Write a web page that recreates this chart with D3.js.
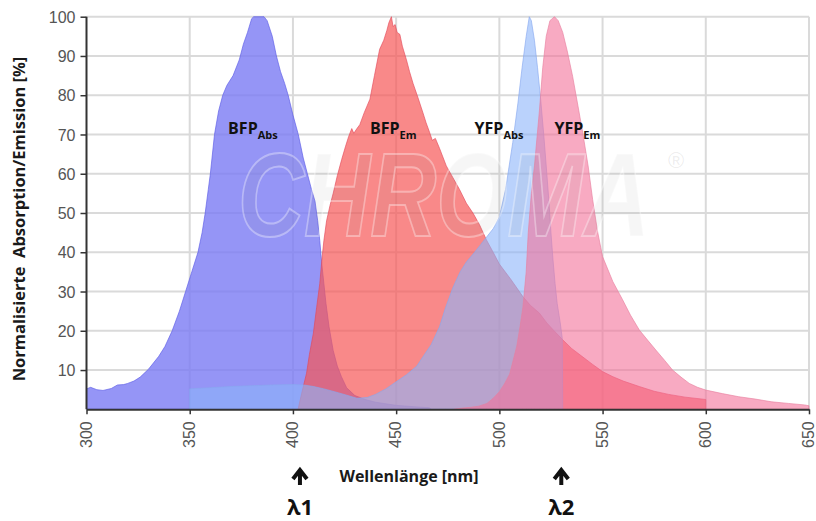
<!DOCTYPE html>
<html><head><meta charset="utf-8">
<script src="https://cdn.jsdelivr.net/npm/d3@7"></script>
<style>body{margin:0;background:#fff}svg{display:block}</style>
</head><body>
<svg id="c" width="816" height="521"></svg>
<script>
// ---- data (wavelength nm, normalized %) ----
const bfpAbs = [[300,0],[300,5.2],[302,5.6],[305,5.0],[308,4.8],[312,5.3],[315,6.2],[318,6.3],[320,6.6],[323,7.2],[326,8.2],[330,10.2],[335,13.5],[338,16],[341.5,20],[345,25],[348,30],[351,35],[354,40],[356,45],[357.5,50],[359,56],[360,60],[362,70],[364,76],[366,80],[368,82.5],[371,85],[374,89],[376,93],[378,96],[380,99.5],[381,100],[386,100],[387.5,99],[390,95],[392,90],[394,86],[396,83],[397.7,80],[400,75],[402.6,70],[405,64],[407,60],[409,56],[410.7,53],[412,48],[413,43],[414,37],[415,32],[416,27],[417.5,21],[419.5,15],[421.5,11],[423.5,8.3],[426,5.5],[430,3.5],[435,2.5],[440,1.8],[450,1.0],[460,0.6],[466,0.4],[467,0]];
const yfpAbs = [[350,0],[350,5.2],[360,5.5],[370,5.8],[380,6.0],[390,6.2],[400,6.3],[405,6.2],[410,5.8],[415,5.2],[420,4.5],[426,3.6],[431,2.8],[436,3.0],[440,3.8],[445,5.2],[450,7.0],[455,8.8],[460,11],[463,13.4],[467,16.5],[471,21],[474,26],[477.5,31],[481,35],[484,37.5],[488,40],[491,42],[494,44],[497,46],[500,49],[503,56],[506.5,68],[509,78],[511,87],[513,95],[514.5,100],[515.5,99],[517,94],[518.5,87],[520,79],[521.5,70],[523,60],[524,53],[525,45],[526,38],[527,32],[528,27],[529.5,22],[530.5,18],[530.7,0]];
const bfpEm = [[402.5,0],[404.2,4],[406.6,9.2],[408,14],[409.9,19.4],[411.5,26],[413,32],[414,38],[415,43],[416.3,48],[418,52],[419.5,55],[421.5,59.5],[423.6,63.6],[425.5,67],[427,69.5],[428.5,71.5],[429.5,70.3],[431,71.5],[432.4,72.5],[434.5,75.5],[437.3,79],[439.5,85],[442,91.7],[444,94],[445.5,96.5],[446.5,98.5],[447.7,100],[448.5,97.5],[449.5,98],[450.5,96],[451.8,95.5],[453,92.5],[455,89],[456.5,86],[458.2,83],[460.5,79.5],[463,75.5],[464.5,73],[466.3,70.4],[467.5,68.5],[469,69],[471,66.5],[474.3,62],[477.5,59],[480.7,56],[484,52.5],[487.2,50],[490.4,47],[493.7,43.2],[497,40],[500,37],[505.7,33],[511.4,28.7],[515,26.5],[519.4,24.5],[523,22],[526.5,20],[530.7,17.7],[535,15.5],[540,13.5],[545,11.5],[550,9.6],[555,8.3],[560,7.2],[567.8,5.8],[575,4.6],[582,3.8],[590,3.1],[600,2.5],[600,0]];
const yfpEm = [[478,0],[482,0.3],[486,0.5],[490,0.8],[494,1.5],[497,2.8],[500,4.5],[502.5,6.5],[505,9],[508.4,16],[510,21],[511.4,26],[513,35],[514,45],[515.5,55],[517,62],[519.4,76],[521,87],[522.7,95],[524.5,99],[526.7,100],[528.5,99],[530.7,96],[533,91],[535.5,84.8],[538,77.5],[540.4,70.4],[543,62],[545.2,53.4],[547.5,45.5],[550,38.9],[555,32.5],[559.7,27.9],[563.5,24],[567.8,20.2],[572,17.5],[575.8,15.1],[580,12.5],[583.9,10],[588,8.2],[592,6.6],[596,5.6],[600,4.9],[608,4.0],[616,3.2],[624,2.6],[632,1.9],[640,1.5],[648,1.1],[650,0.9],[650,0]];
const xTicks = [300,350,400,450,500,550,600,650];
const yTicks = [10,20,30,40,50,60,70,80,90,100];
const seriesLabels = [
  {main:"BFP", sub:"Abs", nm:368.6, v:70},
  {main:"BFP", sub:"Em",  nm:437.3, v:70},
  {main:"YFP", sub:"Abs", nm:488,   v:70},
  {main:"YFP", sub:"Em",  nm:526.7, v:70}
];
const markers = [{nm:403.4, label:"λ1"},{nm:530,label:"λ2"}];

// ---- layout ----
const svg = d3.select("#c");
const x = d3.scaleLinear().domain([300,650]).range([86.5,809]);
const y = d3.scaleLinear().domain([0,100]).range([409.3,16.7]);

// grid
const grid = svg.append("g");
grid.selectAll("line.h").data(yTicks).join("line")
  .attr("x1",x(300)).attr("x2",x(650)).attr("y1",d=>y(d)).attr("y2",d=>y(d))
  .attr("stroke","#dadada").attr("stroke-width",2);
grid.selectAll("line.v").data(xTicks.slice(1)).join("line")
  .attr("y1",y(0)).attr("y2",y(100)).attr("x1",d=>x(d)).attr("x2",d=>x(d))
  .attr("stroke","#dadada").attr("stroke-width",2);

// areas
const area = d3.area().x(d=>x(d[0])).y0(y(0)).y1(d=>y(d[1]));
const layers = [
  {data:bfpAbs, fill:"#7a7af4", op:0.8,  stroke:"#5a5ae6"},
  {data:bfpEm,  fill:"#f75757", op:0.7,  stroke:"#e2485a"},
  {data:yfpAbs, fill:"#8cb4fa", op:0.6,  stroke:"#88a8f0"},
  {data:yfpEm,  fill:"#f37199", op:0.6,  stroke:"#e7809f"}
];
layers.forEach(l=>{
  svg.append("path").datum(l.data).attr("d",area)
    .attr("fill",l.fill).attr("fill-opacity",l.op)
    .attr("stroke",l.stroke).attr("stroke-width",0.8).attr("stroke-opacity",0.8);
});

// watermark
svg.append("text").attr("x",238).attr("y",236)
  .attr("font-family","Liberation Sans, Arial, sans-serif").attr("font-weight","bold").attr("font-style","italic")
  .attr("font-size",118).attr("textLength",412).attr("lengthAdjust","spacingAndGlyphs")
  .attr("fill","#808080").attr("fill-opacity",0.07)
  .attr("stroke","#ffffff").attr("stroke-opacity",0.35).attr("stroke-width",2).text("CHROMA");
svg.append("text").attr("x",668).attr("y",168)
  .attr("font-family","Liberation Sans, Arial, sans-serif").attr("font-size",22)
  .attr("fill","#808080").attr("fill-opacity",0.15).text("®");

// axes
const yAxis = svg.append("g").attr("transform",`translate(${x(300)},0)`)
  .call(d3.axisLeft(y).tickValues(yTicks).tickSize(6).tickSizeOuter(0));
const xAxis = svg.append("g").attr("transform",`translate(0,${y(0)})`)
  .call(d3.axisBottom(x).tickValues(xTicks).tickSize(5).tickSizeOuter(0));
[yAxis,xAxis].forEach(a=>{
  a.select(".domain").attr("stroke","#333").attr("stroke-width",2);
  a.selectAll(".tick line").attr("stroke","#333").attr("stroke-width",1.5);
  a.selectAll("text").attr("font-family","Liberation Sans, Arial, sans-serif")
    .attr("font-size",16).attr("fill","#555");
});
yAxis.select(".domain").attr("d",`M0,${y(0)}V${y(100)}`);
yAxis.selectAll(".tick text").attr("x",-11).attr("dy","0.35em");
xAxis.selectAll(".tick text")
  .attr("transform","rotate(-90)").attr("text-anchor","end")
  .attr("x",-12).attr("y",0).attr("dy","0.3em");

// axis titles
svg.append("text").attr("transform","translate(25,219) rotate(-90)")
  .attr("text-anchor","middle").attr("font-family","Open Sans, sans-serif")
  .attr("font-weight","bold").attr("font-size",16.5).attr("fill","#1a1a1a")
  .attr("xml:space","preserve").text("Normalisierte  Absorption/Emission [%]");
svg.append("text").attr("x",409).attr("y",482).attr("text-anchor","middle")
  .attr("font-family","Open Sans, sans-serif").attr("font-weight","bold")
  .attr("font-size",16).attr("fill","#1a1a1a").text("Wellenlänge [nm]");

// series labels
seriesLabels.forEach(s=>{
  const t = svg.append("text").attr("x",x(s.nm)).attr("y",y(s.v))
    .attr("font-family","Open Sans, sans-serif").attr("font-weight","bold")
    .attr("font-size",16).attr("fill","#111");
  t.append("tspan").text(s.main);
  t.append("tspan").attr("font-size",11).attr("dy",5).text(s.sub);
});

// lambda markers
markers.forEach(m=>{
  const cx = x(m.nm);
  svg.append("path").attr("d",`M${cx},485V471M${cx-7},479L${cx},470L${cx+7},479`)
    .attr("fill","none").attr("stroke","#111").attr("stroke-width",4)
    .attr("stroke-linejoin","miter");
  svg.append("text").attr("x",cx).attr("y",515).attr("text-anchor","middle")
    .attr("font-family","Open Sans, sans-serif").attr("font-weight","bold")
    .attr("font-size",22).attr("fill","#111").text(m.label);
});
</script>
</body></html>
